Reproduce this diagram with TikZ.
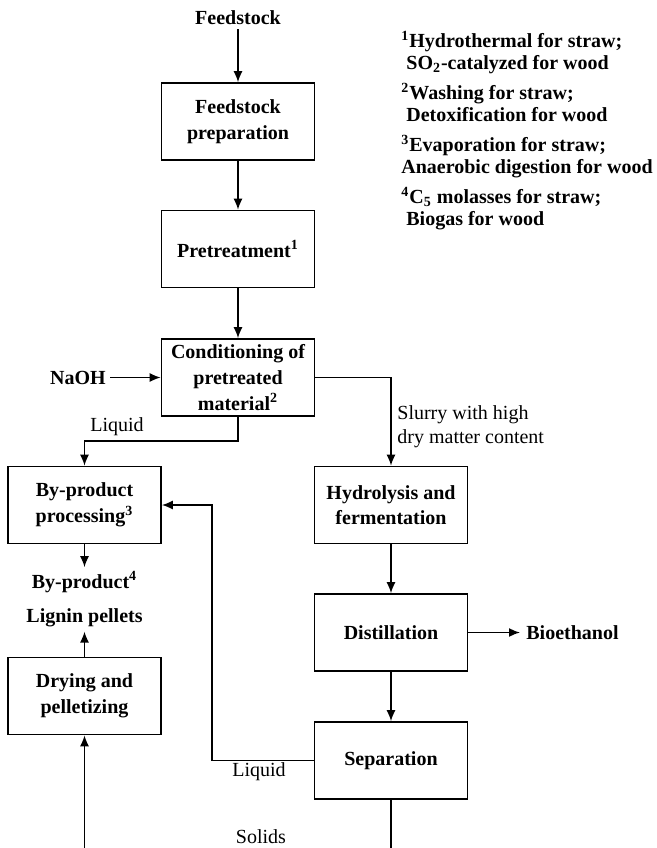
\documentclass[tikz,border=0pt]{standalone}
\usepackage{fontspec}
\setmainfont{Liberation Serif}
\usepackage{tikz}
\usetikzlibrary{calc,positioning,arrows.meta}

\begin{document}
\begin{tikzpicture}[x=0.5pt,y=-0.5pt,>={Latex[length=5.5pt,width=4.5pt]},
	box/.style={draw,thick,minimum width=76.5pt,minimum height=38.5pt,align=center,inner sep=1pt,font=\fontsize{10}{12.8}\selectfont\bfseries},
	txt/.style={inner sep=2pt,font=\bfseries},
	lbl/.style={inner sep=1pt,align=left,font=\fontsize{10}{12}\selectfont}]
		\useasboundingbox (0,0) rectangle (657,848);
		\node[txt] (feed) at (238,18) {Feedstock};
		\node[box] (prep) at (238,121.5) {Feedstock\\preparation};
		\node[box] (pre) at (238,249) {Pretreatment\textsuperscript{1}};
		\node[box] (cond) at (238,377.5) {Conditioning of\\pretreated\\material\textsuperscript{2}};
		\node[txt] (naoh) at (78,377.5) {NaOH};
		\node[box] (byp) at (84.5,505) {By-product\\processing\textsuperscript{3}};
		\node[box] (hyd) at (391,505) {Hydrolysis and\\fermentation};
		\node[box] (dist) at (391,632.5) {Distillation};
		\node[box] (sep) at (391,760.5) {Separation};
		\node[box] (dry) at (84.5,696) {Drying and\\pelletizing};
		\node[txt] (byprod) at (84.5,582) {By-product\textsuperscript{4}};
		\node[txt] (lignin) at (84.5,618) {Lignin pellets};
		\node[txt,anchor=west,inner sep=3pt] (bioeth) at (520,632.5) {Bioethanol};
		\node[txt,align=left,anchor=north west,inner sep=0pt,font=\fontsize{10}{11}\selectfont\bfseries] (notes) at (401,31) {\textsuperscript{1}Hydrothermal for straw;\\~SO\textsubscript{2}-catalyzed for wood\\[4pt]\textsuperscript{2}Washing for straw;\\~Detoxification for wood\\[4pt]\textsuperscript{3}Evaporation for straw;\\Anaerobic digestion for wood\\[4pt]\textsuperscript{4}C\textsubscript{5} molasses for straw;\\~Biogas for wood};
		\node[lbl] (liq1) at (117,427) {Liquid};
		\node[lbl,anchor=west] (slurry) at (395,427) {Slurry with high\\dry matter content};
		\node[lbl] (liq2) at (259,772) {Liquid};
		\node[lbl] (solids) at (261,837) {Solids};
		\coordinate (liqA) at (238,441);
		\coordinate (liqB) at (212,760.5);
		\coordinate (solend) at (391,848);
		\coordinate (dryin) at (84.5,848);
		\draw[->,thick] (feed) -- (prep);
		\draw[->,thick] (prep) -- (pre);
		\draw[->,thick] (pre) -- (cond);
		\draw[->,thick] (naoh.east) -- (cond.west);
		\draw[->,thick] (cond.south) -- (liqA) -| (byp.north);
		\draw[->,thick] (cond.east) -| (hyd.north);
		\draw[->,thick] (hyd) -- (dist);
		\draw[->,thick] (dist) -- (sep);
		\draw[->,thick] (dist.east) -- (bioeth.west);
		\draw[->,thick] (byp) -- (byprod);
		\draw[->,thick] (dry) -- (lignin);
		\draw[->,thick] (sep.west) -- (liqB) |- (byp.east);
		\draw[thick] (sep) -- (solend);
		\draw[->,thick] (dryin) -- (dry);
	\end{tikzpicture}
\end{document}
